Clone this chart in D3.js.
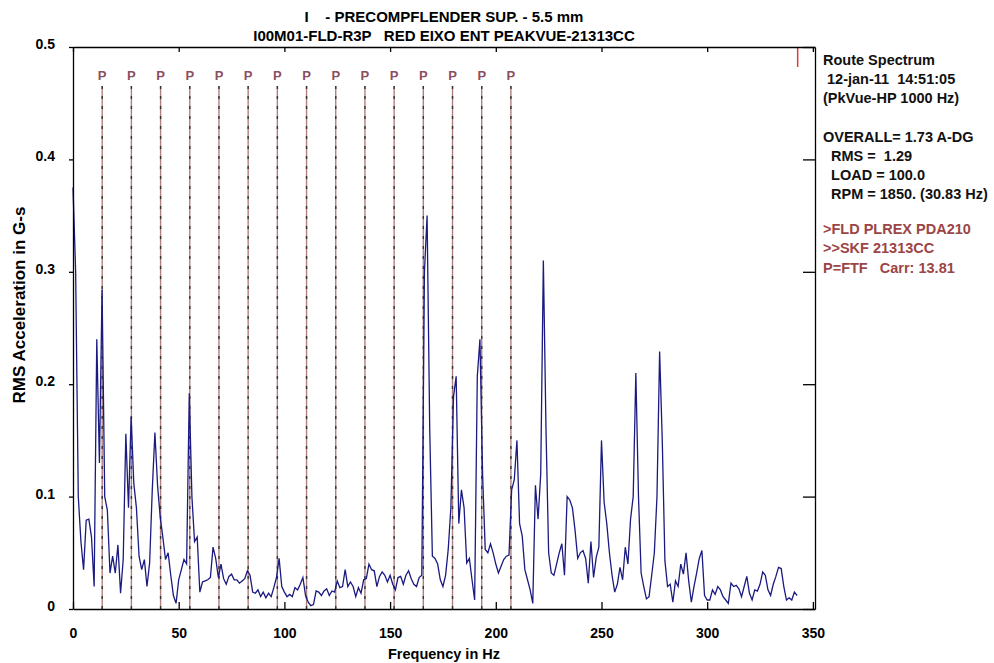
<!DOCTYPE html>
<html>
<head>
<meta charset="utf-8">
<script src="https://cdn.jsdelivr.net/npm/d3@7"></script>
<style>
  body { margin: 0; background: #fff; }
  svg text { font-family: "Liberation Sans", Arial, sans-serif; font-weight: bold; white-space: pre; }
</style>
</head>
<body>
<script>

const width = 994;
const height = 663;

// spectrum, one value per 1.25 Hz bin starting at 0 Hz
const freqStep = 1.25;
const amplitudes = [
  .375, .30, .10, .06, .035, .079, .08, .064, .02, .24,
  .13, .284, .10, .088, .032, .047, .032, .057, .014, .044,
  .156, .09, .171, .112, .09, .047, .035, .044, .02, .041,
  .106, .157, .11, .082, .064, .044, .05, .03, .012, .005,
  .026, .035, .044, .04, .192, .10, .06, .064, .015, .024,
  .025, .026, .028, .055, .045, .028, .04, .027, .022, .029,
  .031, .026, .026, .023, .025, .027, .034, .03, .015, .014,
  .017, .011, .015, .01, .014, .011, .019, .028, .045, .02,
  .015, .011, .013, .011, .019, .017, .022, .028, .012, .006,
  .003, .004, .016, .015, .012, .016, .018, .012, .016, .015,
  .025, .019, .02, .035, .02, .024, .02, .011, .019, .014,
  .026, .027, .04, .035, .034, .02, .029, .033, .03, .024,
  .03, .022, .017, .028, .029, .022, .03, .034, .027, .022,
  .02, .028, .03, .30, .35, .16, .047, .045, .04, .026,
  .02, .03, .053, .09, .189, .207, .076, .106, .09, .041,
  .045, .026, .008, .207, .24, .12, .053, .05, .058, .05,
  .04, .032, .038, .044, .047, .048, .106, .115, .15, .076,
  .065, .035, .026, .017, .005, .11, .08, .12, .31, .16,
  .05, .032, .03, .04, .05, .058, .03, .10, .097, .09,
  .07, .045, .05, .052, .045, .023, .06, .028, .046, .055,
  .15, .095, .076, .05, .03, .015, .022, .037, .026, .055,
  .04, .08, .10, .21, .10, .032, .02, .009, .011, .03,
  .05, .10, .229, .15, .043, .02, .022, .006, .025, .02,
  .04, .031, .05, .025, .006, .02, .032, .045, .052, .012,
  .008, .008, .017, .013, .02, .017, .011, .008, .005, .023,
  .02, .021, .018, .011, .02, .029, .014, .008, .017, .016,
  .022, .033, .03, .017, .012, .022, .029, .037, .036, .02,
  .008, .01, .008, .015, .012
];

// FTF carrier harmonics (13.81 Hz)
const pFreqs = [13.81, 27.62, 41.43, 55.24, 69.05, 82.86, 96.67, 110.48,
                124.29, 138.10, 151.91, 165.72, 179.53, 193.34, 207.15];
const cursorFreq = 342.8;

const xTicks = [0, 50, 100, 150, 200, 250, 300, 350];
const yTicks = [0, 0.1, 0.2, 0.3, 0.4, 0.5];

const titleLines = ['I    - PRECOMPFLENDER SUP. - 5.5 mm',
                    'I00M01-FLD-R3P   RED EIXO ENT PEAKVUE-21313CC'];
const infoBlack = ['Route Spectrum', ' 12-jan-11  14:51:05', '(PkVue-HP 1000 Hz)', '',
                   'OVERALL= 1.73 A-DG', '  RMS =  1.29', '  LOAD = 100.0', '  RPM = 1850. (30.83 Hz)'];
const infoRed = ['>FLD PLREX PDA210', '>>SKF 21313CC', 'P=FTF   Carr: 13.81'];

const plotL = 73, plotR = 815, plotT = 47, plotB = 609;

const svg = d3.select('body').append('svg')
    .attr('width', width)
    .attr('height', height);

const x = d3.scaleLinear().domain([0, 351]).range([plotL, plotR]);
const y = d3.scaleLinear().domain([0, 0.5]).range([plotB, plotT]);

// P marker lines
const pg = svg.append('g');
pg.selectAll('line.p')
    .data(pFreqs)
    .enter()
    .append('line')
    .attr('class', 'p')
    .attr('x1', d => x(d)).attr('x2', d => x(d))
    .attr('y1', 86).attr('y2', plotB)
    .attr('stroke', '#b08080')
    .attr('stroke-width', 1.4);
pg.selectAll('line.pd')
    .data(pFreqs)
    .enter()
    .append('line')
    .attr('class', 'pd')
    .attr('x1', d => x(d)).attr('x2', d => x(d))
    .attr('y1', 86).attr('y2', plotB)
    .attr('stroke', '#333')
    .attr('stroke-width', 1.4)
    .attr('stroke-dasharray', '3,7');
pg.selectAll('text')
    .data(pFreqs)
    .enter()
    .append('text')
    .attr('x', d => x(d))
    .attr('y', 80)
    .attr('text-anchor', 'middle')
    .attr('font-size', 13)
    .attr('fill', '#8b4f5f')
    .text('P');

// spectrum trace
const line = d3.line()
    .x((d, i) => x(i * freqStep))
    .y(d => y(d));
svg.append('path')
    .datum(amplitudes)
    .attr('d', line)
    .attr('fill', 'none')
    .attr('stroke', '#1a1a80')
    .attr('stroke-width', 1.3);

// cursor
svg.append('line')
    .attr('x1', x(cursorFreq)).attr('x2', x(cursorFreq))
    .attr('y1', plotT).attr('y2', plotT + 20)
    .attr('stroke', '#e03a3a')
    .attr('stroke-width', 1.5);

// axes
const bottomAxis = d3.axisBottom(x).tickValues(xTicks).tickSizeInner(-7).tickSizeOuter(0).tickPadding(19);
const topAxis = d3.axisTop(x).tickValues(xTicks).tickSizeInner(-5).tickSizeOuter(0).tickFormat('');
const leftAxis = d3.axisLeft(y).tickValues(yTicks).tickSizeInner(4).tickSizeOuter(0).tickPadding(14)
    .tickFormat(d => d === 0 ? '0' : d3.format('.1f')(d));
const rightAxis = d3.axisRight(y).tickValues(yTicks).tickSizeInner(-12).tickSizeOuter(0).tickFormat('');

function styleAxis(g) {
  g.selectAll('path, line').attr('stroke', '#000').attr('stroke-width', 1.3);
  g.selectAll('text').attr('font-size', 14).attr('fill', '#000')
    .style('font-family', '"Liberation Sans", Arial, sans-serif').style('font-weight', 'bold');
}

svg.append('g').attr('transform', `translate(0,${plotB})`).call(bottomAxis).call(styleAxis);
svg.append('g').attr('transform', `translate(0,${plotT})`).call(topAxis).call(styleAxis);
svg.append('g').attr('transform', `translate(${plotL},0)`).call(leftAxis).call(styleAxis)
    .selectAll('text').attr('dy', '0.1em');
svg.append('g').attr('transform', `translate(${plotR},0)`).call(rightAxis).call(styleAxis);

// titles
svg.selectAll('text.title')
    .data(titleLines)
    .enter()
    .append('text')
    .attr('class', 'title')
    .attr('x', (plotL + plotR) / 2)
    .attr('y', (d, i) => 22 + i * 19)
    .attr('text-anchor', 'middle')
    .attr('font-size', 15)
    .text(d => d);

svg.append('text')
    .attr('x', (plotL + plotR) / 2)
    .attr('y', 659)
    .attr('text-anchor', 'middle')
    .attr('font-size', 14.5)
    .text('Frequency in Hz');

svg.append('text')
    .attr('transform', 'translate(25,305) rotate(-90)')
    .attr('text-anchor', 'middle')
    .attr('font-size', 17)
    .text('RMS Acceleration in G-s');

// info panel
svg.selectAll('text.info')
    .data(infoBlack)
    .enter()
    .append('text')
    .attr('class', 'info')
    .attr('x', 823)
    .attr('y', (d, i) => 65 + i * 19.2)
    .attr('font-size', 14.5)
    .attr('fill', '#111')
    .text(d => d);

svg.selectAll('text.info2')
    .data(infoRed)
    .enter()
    .append('text')
    .attr('class', 'info2')
    .attr('x', 823)
    .attr('y', (d, i) => 234 + i * 19.3)
    .attr('font-size', 14.5)
    .attr('fill', '#9b4545')
    .text(d => d);

</script>
</body>
</html>
